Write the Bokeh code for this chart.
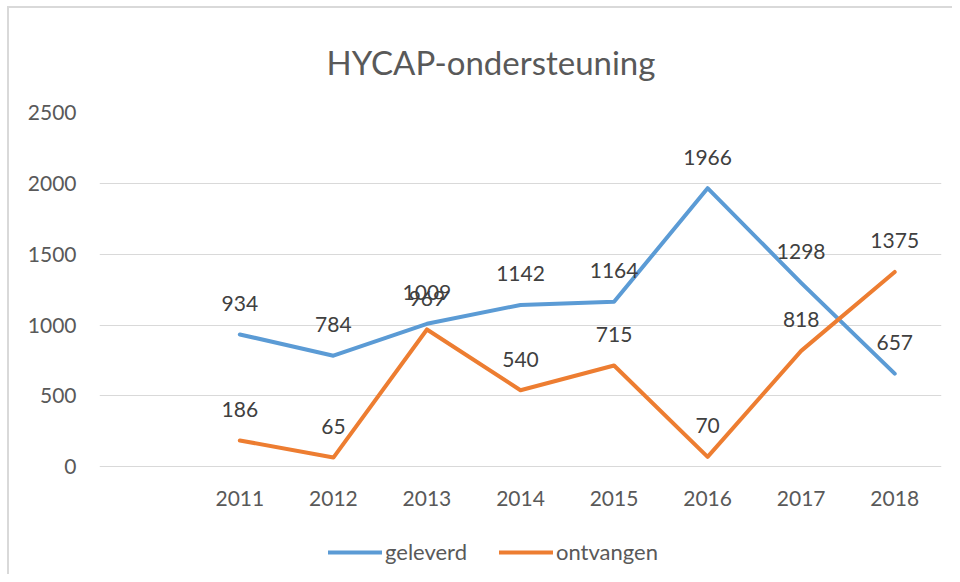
from bokeh.plotting import figure
from bokeh.embed import file_html
from bokeh.resources import INLINE
from bokeh.models import FixedTicker, Legend, LegendItem, ColumnDataSource, Title
from bokeh.core.properties import value

years = [2011, 2012, 2013, 2014, 2015, 2016, 2017, 2018]
geleverd = [934, 784, 1009, 1142, 1164, 1966, 1298, 657]
ontvangen = [186, 65, 969, 540, 715, 70, 818, 1375]
y_ticks = [0, 500, 1000, 1500, 2000, 2500]

FONT = "Lato"
BLUE = "#5B9BD5"
ORANGE = "#ED7D31"

src = ColumnDataSource(dict(
    x=years, g=geleverd, o=ontvangen,
    gl=[str(v) for v in geleverd], ol=[str(v) for v in ontvangen],
))

# frame is extended below zero so the legend can sit inside it
p = figure(width=945, height=568, output_backend="svg", toolbar_location=None,
           x_range=(2009.5, 2018.5), y_range=(-753, 2500),
           min_border_left=90, min_border_right=13, min_border_top=103, min_border_bottom=3,
           margin=(6, 0, 0, 7))
p.styles = {"border-left": "2px solid #d9d9d9", "border-top": "2px solid #d9d9d9"}

p.outline_line_color = None
p.background_fill_color = "white"
p.border_fill_color = "white"

p.title = Title(text="HYCAP-ondersteuning", align="left", offset=227, text_font=FONT,
                text_font_size="33px", text_font_style="normal", text_color="#595959",
                standoff=62)

p.xaxis.ticker = FixedTicker(ticks=years)
p.yaxis.ticker = FixedTicker(ticks=y_ticks)
for ax in (p.xaxis[0], p.yaxis[0]):
    ax.axis_line_color = None
    ax.major_tick_line_color = None
    ax.minor_tick_line_color = None
    ax.major_label_text_font = FONT
    ax.major_label_text_font_size = "21px"
    ax.major_label_text_color = "#595959"
p.yaxis.major_label_standoff = 17
p.xaxis.major_label_standoff = 18
p.xaxis.fixed_location = 0

p.xgrid.grid_line_color = None
p.ygrid.grid_line_color = "#d9d9d9"
p.ygrid.grid_line_width = 1

r1 = p.line("x", "g", source=src, line_color=BLUE, line_width=4, line_join="round", line_cap="round")
r2 = p.line("x", "o", source=src, line_color=ORANGE, line_width=4, line_join="round", line_cap="round")

common = dict(text_font=value(FONT), text_font_size="21px", text_color="#404040",
              text_align="center", text_baseline="middle", y_offset=-31)
p.text("x", "g", text="gl", source=src, **common)
p.text("x", "o", text="ol", source=src, **common)

legend = Legend(items=[LegendItem(label="geleverd", renderers=[r1]),
                       LegendItem(label="ontvangen", renderers=[r2])],
                orientation="horizontal", location=(229, 8), margin=0,
                label_text_font=FONT, label_text_font_size="22px", label_text_color="#595959",
                glyph_width=54, glyph_height=20, spacing=32, label_standoff=3, padding=0,
                border_line_color=None, background_fill_alpha=0)
p.add_layout(legend, "center")

open("out.html", "w").write(file_html(p, INLINE))
